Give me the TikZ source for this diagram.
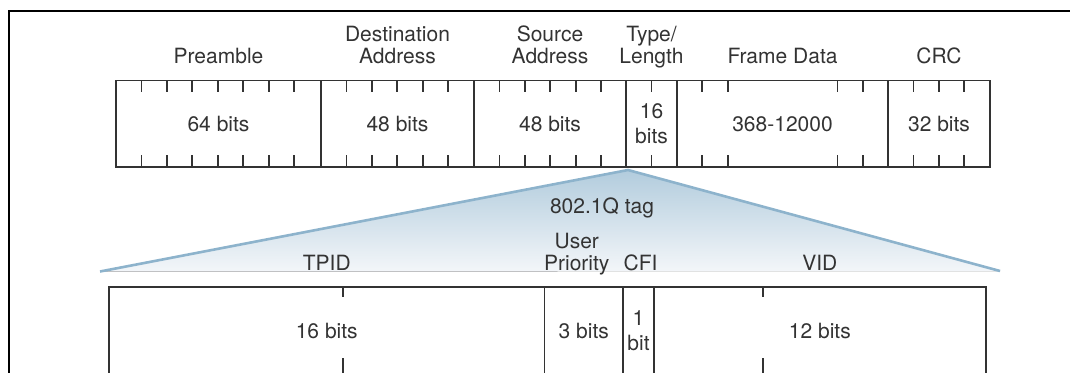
\documentclass[tikz,border=0pt]{standalone}
\usepackage{fontspec}
\setmainfont{TeX Gyre Heros}
\usepackage{xcolor}
\usetikzlibrary{positioning,calc}
\definecolor{boxline}{HTML}{333333}
\definecolor{tagedge}{HTML}{8DB3CC}
\definecolor{tagtop}{HTML}{B2CCDD}
\definecolor{tagbot}{HTML}{F3F6F9}
\tikzset{bittick/.style = {draw=boxline, line width=1.8pt}}

\begin{document}
\begin{tikzpicture}[x=1pt,y=-1pt,
    every node/.style={font=\fontsize{21}{22}\selectfont, text=boxline},
    field/.style={draw=boxline,line width=1.8pt,minimum height=86.5pt,inner sep=0pt,outer sep=0pt,align=center,font=\fontsize{21}{25}\selectfont},
    tagfield/.style={field,minimum height=88pt},
    lbl/.style={anchor=base,inner sep=0pt,align=center}]
    \useasboundingbox (0,0) rectangle (1070,372);

    % outer frame
    \draw[line width=2.6pt] (9,380) -- (9,11) -- (1075,11);

    % 802.1Q tag wedge
    \coordinate (apex) at (628,170);
    \coordinate (tagL) at (100,271.5);
    \coordinate (tagR) at (1000,271);
    \fill[top color=tagtop, bottom color=tagbot] (apex) -- (tagR) -- (tagL) -- cycle;
    \draw[tagedge, line width=2.6pt, line join=round] (tagL) -- (apex) -- (tagR);
    \node[lbl] (tag) at (602,213) {802.1Q tag};

    % ethernet frame
    \node[field, minimum width=205pt, anchor=north west] (pre) at (116,80.5) {64 bits};
    \node[field, minimum width=153pt] (dst) [right=0pt of pre] {48 bits};
    \node[field, minimum width=152pt] (src) [right=0pt of dst] {48 bits};
    \node[field, minimum width=51pt] (type) [right=0pt of src] {16\\bits};
    \node[field, minimum width=211pt] (data) [right=0pt of type] {368-12000};
    \node[field, minimum width=102pt] (crc) [right=0pt of data] {32 bits};

    \foreach \n/\k in {pre/7,dst/5,src/5,type/1,crc/3}
        \foreach \i in {1,...,\k}
            \draw[bittick] ($(\n.north west)+(\i*25.45,0)$) -- ++(0,11)
                           ($(\n.south west)+(\i*25.45,0)$) -- ++(0,-12);
    \foreach \d in {25.3,50.6}
        \draw[bittick] ($(data.north west)+(\d,0)$) -- ++(0,11)
                       ($(data.north east)-(\d,0)$) -- ++(0,11)
                       ($(data.south west)+(\d,0)$) -- ++(0,-12)
                       ($(data.south east)-(\d,0)$) -- ++(0,-12);

    \coordinate (row1) at (0,63.5);
    \node[lbl] (preL) at (pre.north |- row1) {Preamble};
    \node[lbl] (dstL) at (dst.north |- row1) {Destination\\Address};
    \node[lbl] (srcL) at (src.north |- row1) {Source\\Address};
    \node[lbl] (typeL) at (type.north |- row1) {Type/\\Length};
    \node[lbl] (dataL) at (data.north |- row1) {Frame Data};
    \node[lbl] (crcL) at (crc.north |- row1) {CRC};

    % tag fields
    \node[tagfield, minimum width=435.5pt, anchor=north west] (tpid) at (109,287) {16 bits};
    \node[tagfield, minimum width=78.5pt] (prio) [right=0pt of tpid] {3 bits};
    \node[tagfield, minimum width=31pt] (cfi) [right=0pt of prio] {1\\bit};
    \node[tagfield, minimum width=331.7pt] (vid) [right=0pt of cfi] {12 bits};

    \draw[bittick] ($(tpid.north west)+(234,0)$) -- ++(0,10)
                   ($(tpid.south west)+(234,0)$) -- ++(0,-17)
                   ($(vid.north west)+(109,0)$) -- ++(0,10)
                   ($(vid.south west)+(109,0)$) -- ++(0,-17);

    \coordinate (row3) at (0,270);
    \node[lbl] (tpidL) at (tpid.north |- row3) {TPID};
    \node[lbl, xshift=-7pt] (prioL) at (prio.north |- row3) {User\\Priority};
    \node[lbl, xshift=2pt] (cfiL) at (cfi.north |- row3) {CFI};
    \node[lbl] (vidL) at (vid.north |- row3) {VID};
\end{tikzpicture}
\end{document}
